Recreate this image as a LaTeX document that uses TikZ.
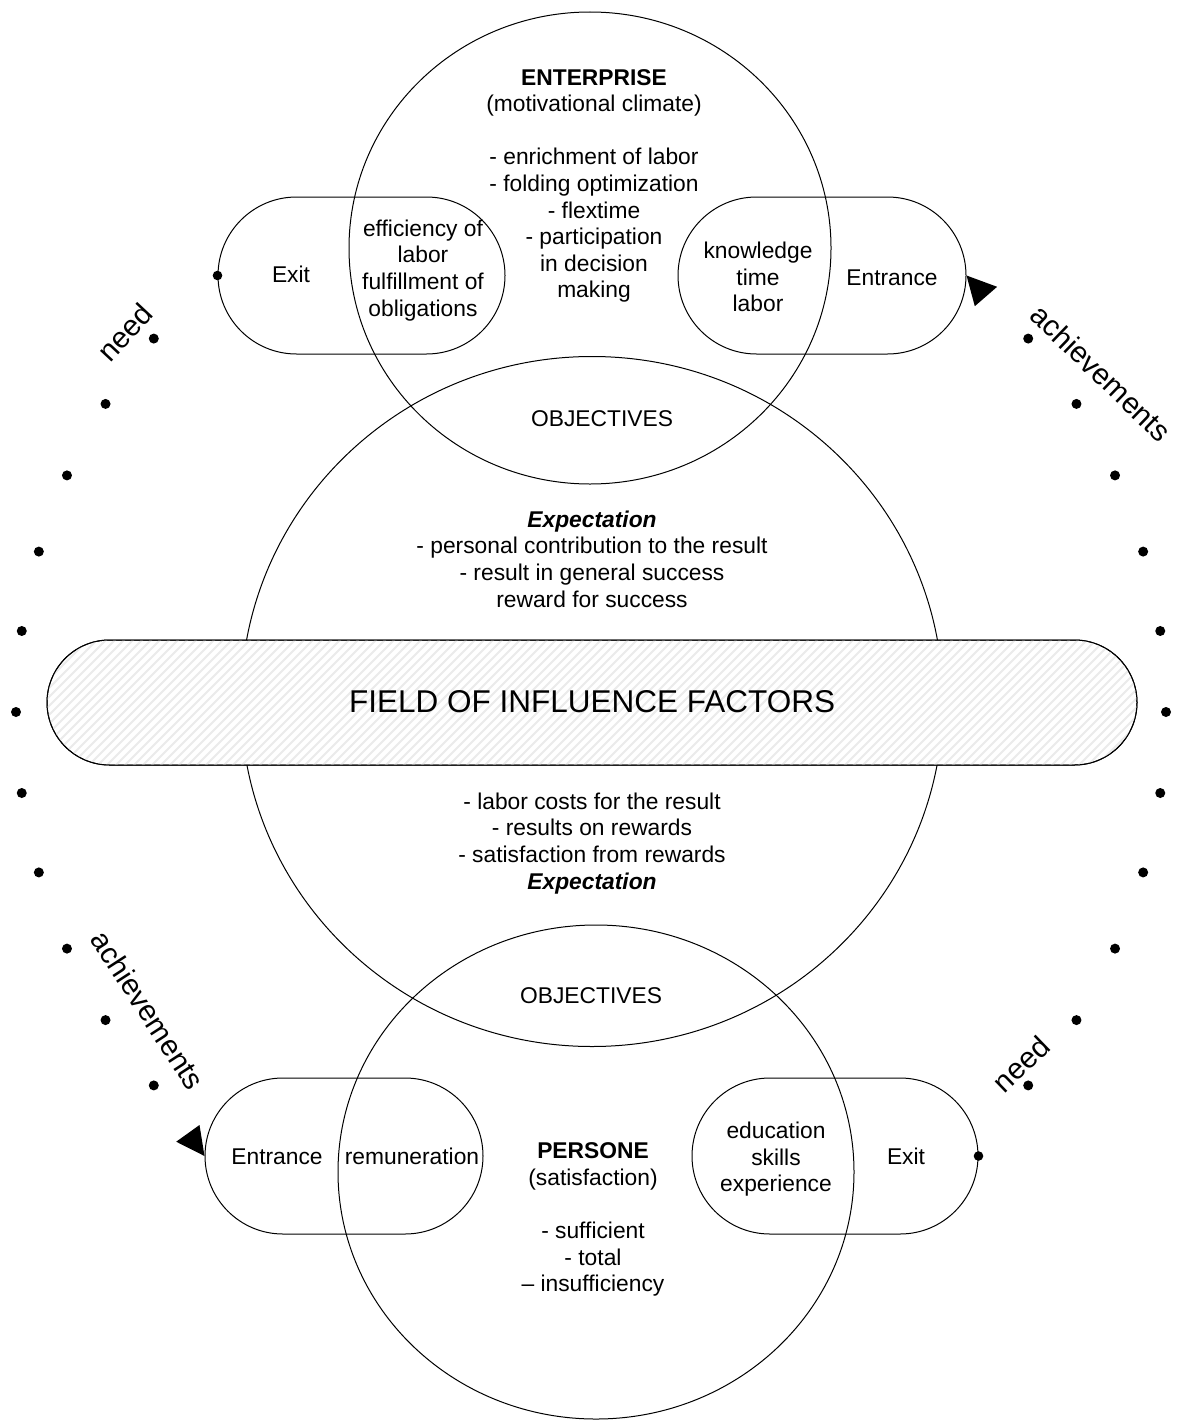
\documentclass[tikz,border=0pt]{standalone}
\usepackage{fontspec}
\setmainfont{Liberation Sans}
\usetikzlibrary{shapes.geometric,shapes.misc}
\begin{document}
\begin{tikzpicture}[x=1pt,y=-1pt,
  outline/.style={line width=1pt, draw=black},
  ring/.style={outline, ellipse, inner sep=0pt},
  capsule/.style={outline, rounded rectangle, inner sep=0pt},
  txt/.style={font=\fontsize{22.8}{26.6}\selectfont, align=center, inner sep=0pt,
    execute at begin node=\strut, execute at end node=\strut},
  big/.style={font=\fontsize{31.5}{36}\selectfont, inner sep=0pt},
  flow/.style={font=\fontsize{29.5}{33}\selectfont, inner sep=0pt},
  hatch/.style={draw=black!8, line width=2pt},
  bead/.style={fill=black},
  tip/.style={fill=black}
]
\useasboundingbox (0,0) rectangle (1180,1421);

% the three overlapping fields
\node[ring, minimum width=482pt, minimum height=472pt] (enterprise) at (590,248) {};
\node[ring, minimum width=702pt, minimum height=690pt] (expect) at (592,701.5) {};
\node[ring, minimum width=516pt, minimum height=494pt] (person) at (596,1172) {};

% entrance / exit capsules
\node[capsule, minimum width=287pt, minimum height=157pt] (exitE) at (361.5,275.5) {};
\node[capsule, minimum width=288pt, minimum height=157pt] (entryE) at (822,275.5) {};
\node[capsule, minimum width=278pt, minimum height=156pt] (entryP) at (344,1156) {};
\node[capsule, minimum width=286pt, minimum height=156pt] (exitP) at (835,1156) {};

% hatched band across the middle
\node[capsule, fill=white, minimum width=1090pt, minimum height=125pt] (field) at (592,702.5) {};
\begin{scope}
  \clip[rounded corners=62.4pt] (47,640) rectangle (1137,765);
  \foreach \x in {-150,-141,...,1160} \draw[hatch] (\x,770) -- (\x+135,635);
\end{scope}
\node[capsule, minimum width=1090pt, minimum height=125pt] (fieldrim) at (field) {};
\node[big] (fieldtext) at (592,702) {FIELD OF INFLUENCE FACTORS};

% texts
\node[txt] (entText) at (594,187.5) {\textbf{ENTERPRISE}\\(motivational climate)\\[26.6pt]- enrichment of labor\\- folding optimization\\- flextime\\- participation\\in decision\\making};
\node[txt] (exitEText) at (291,277) {Exit};
\node[txt] (effText) at (423,272) {efficiency of\\labor\\fulfillment of\\obligations};
\node[txt] (knowText) at (758,281) {knowledge\\time\\labor};
\node[txt] (entryEText) at (892,280) {Entrance};
\node[txt] (objTop) at (602,421) {OBJECTIVES};
\node[txt] (expTop) at (592,563) {\textbf{\textit{Expectation}}\\- personal contribution to the result\\- result in general success\\reward for success};
\node[txt] (expBottom) at (592,845) {- labor costs for the result\\- results on rewards\\- satisfaction from rewards\\\textbf{\textit{Expectation}}};
\node[txt] (objBottom) at (591,998) {OBJECTIVES};
\node[txt] (entryPText) at (277,1159) {Entrance};
\node[txt] (remText) at (412,1159) {remuneration};
\node[txt] (perText) at (593,1221.5) {\textbf{PERSONE}\\(satisfaction)\\[26.6pt]- sufficient\\- total\\– insufficiency};
\node[txt] (eduText) at (776,1161) {education\\skills\\experience};
\node[txt] (exitPText) at (906,1159) {Exit};

% dotted cycle around the picture
\foreach \a in {-40.5,-32.4,-24.3,-16.2,-8.1,0,8.1,16.2,24.3,32.4,40.5} {
  \fill[bead] ([shift={(591,712)}]\a:575) circle (5pt);
  \fill[bead] ([shift={(591,712)}]180+\a:575) circle (5pt);
}
\fill[bead] (exitE.west) circle (4.8pt);
\fill[bead] (exitP.east) circle (4.8pt);
\fill[tip] (entryE.east) -- ++(30.6,11.3) -- ++(-22.3,19.4) -- cycle;
\fill[tip] (entryP.west) -- ++(-5,-31) -- ++(-23.3,16.7) -- cycle;

% cycle labels
\node[flow, rotate=47] (needTop) at (125,332) {need};
\node[flow, rotate=-44] (achTop) at (1101,373) {achievements};
\node[flow, rotate=-57] (achBottom) at (148,1010) {achievements};
\node[flow, rotate=44] (needBottom) at (1021,1064) {need};
\end{tikzpicture}
\end{document}
